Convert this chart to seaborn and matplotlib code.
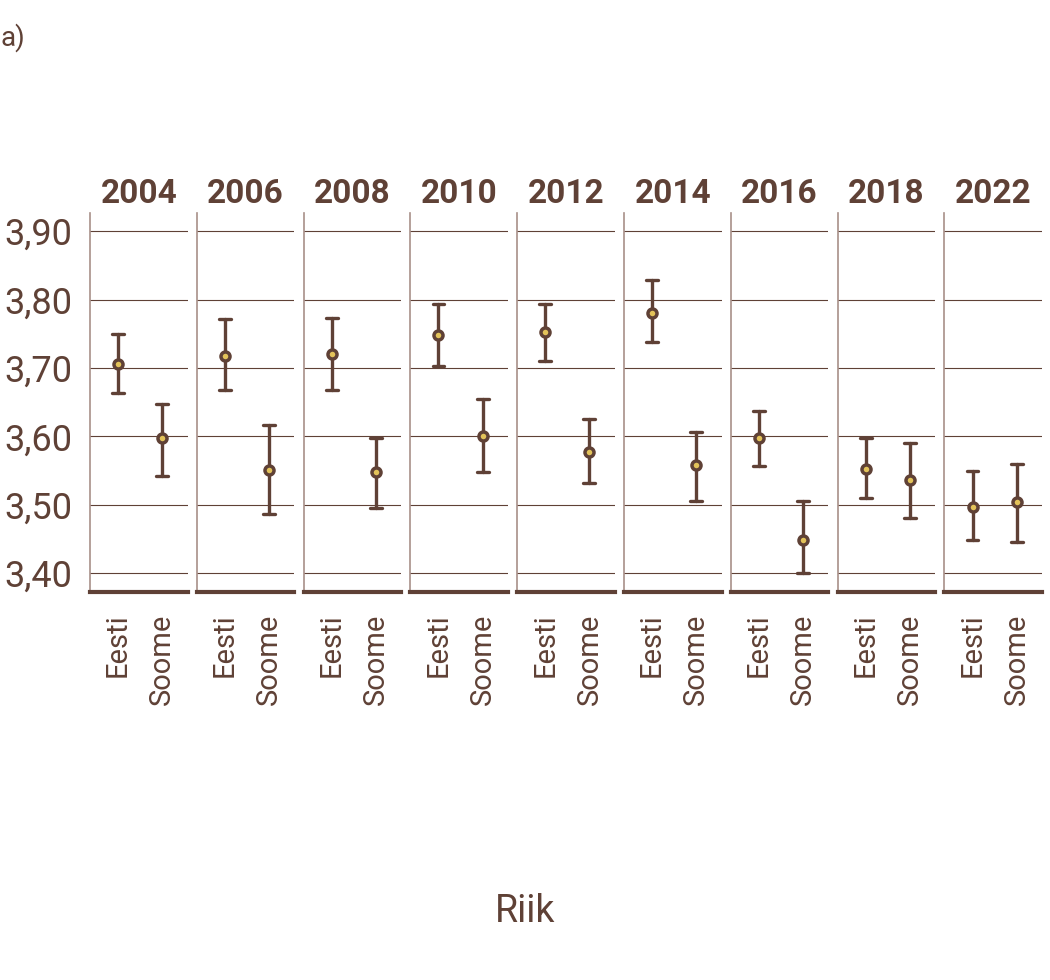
import numpy as np
import pandas as pd
import seaborn as sns
from matplotlib import pyplot as plt
from matplotlib.ticker import FuncFormatter

years = ['2004', '2006', '2008', '2010', '2012', '2014', '2016', '2018', '2022']
countries = ['Eesti', 'Soome']
# mean, lower and upper limit of the interval, per year
eesti_mean = [3.706, 3.718, 3.721, 3.748, 3.753, 3.780, 3.598, 3.553, 3.496]
eesti_lo = [3.663, 3.668, 3.668, 3.703, 3.710, 3.738, 3.556, 3.510, 3.448]
eesti_hi = [3.749, 3.772, 3.773, 3.794, 3.793, 3.828, 3.637, 3.598, 3.550]
soome_mean = [3.597, 3.551, 3.548, 3.600, 3.577, 3.558, 3.449, 3.536, 3.504]
soome_lo = [3.542, 3.487, 3.495, 3.548, 3.532, 3.506, 3.400, 3.480, 3.445]
soome_hi = [3.647, 3.616, 3.597, 3.654, 3.625, 3.606, 3.505, 3.591, 3.559]
yticks = [3.40, 3.50, 3.60, 3.70, 3.80, 3.90]

brown = '#5f4136'
light = '#a89089'
yellow = '#e3c35a'

sns.set_style('white')
plt.rcParams['font.family'] = ['Roboto', 'DejaVu Sans']

# three rows per cell (lo, mean, hi): median = mean, min-max = interval
rows = []
for i, y in enumerate(years):
    for v in (eesti_lo[i], eesti_mean[i], eesti_hi[i]):
        rows.append({'aasta': y, 'riik': 'Eesti', 'v': v})
    for v in (soome_lo[i], soome_mean[i], soome_hi[i]):
        rows.append({'aasta': y, 'riik': 'Soome', 'v': v})
df = pd.DataFrame(rows)

fig, axes = plt.subplots(1, len(years), figsize=(10.5, 9.8), dpi=100, sharey=True)
fig.subplots_adjust(left=90/1050, right=1042/1050, top=1-212.7/980, bottom=1-592.3/980, wspace=0.095)

for ax, y in zip(axes, years):
    d = df[df.aasta == y]
    sns.pointplot(data=d, x='riik', y='v', order=countries, estimator='median',
                  errorbar=('pi', 100), color=brown, linestyle='none', capsize=0.27,
                  err_kws={'linewidth': 2.4}, markersize=6.5, markeredgewidth=2.5, ax=ax)
    for ln in ax.lines:
        if ln.get_marker() == 'o':
            ln.set_markerfacecolor(yellow)
            ln.set_markeredgecolor(brown)
            ln.set_zorder(5)
    ax.set_xlim(-0.636, 1.575)
    ax.set_ylim(3.372, 3.927)
    ax.set_yticks(yticks)
    ax.yaxis.grid(True, color=brown, linewidth=0.8)
    ax.set_axisbelow(True)
    ax.set_xlabel('')
    ax.set_ylabel('')
    ax.set_title(y, fontsize=24, fontweight='bold', color=brown, pad=7)
    for s in ['top', 'right']:
        ax.spines[s].set_visible(False)
    ax.spines['left'].set_color(light)
    ax.spines['left'].set_linewidth(1.2)
    ax.spines['bottom'].set_color(brown)
    ax.spines['bottom'].set_linewidth(3)
    ax.tick_params(axis='both', length=0)
    ax.tick_params(axis='x', pad=15, labelsize=21, labelcolor=brown, rotation=90)
    ax.tick_params(axis='y', pad=13, labelsize=26, labelcolor=brown)
    ax.yaxis.set_major_formatter(FuncFormatter(lambda v, p: f'{v:.2f}'.replace('.', ',')))

fig.text(0.0, 1-38/980, 'a)', fontsize=20, color=brown, va='center', ha='left')
fig.text(525/1050, 1-912/980, 'Riik', fontsize=27, color=brown, va='center', ha='center')

fig.savefig('out.png', dpi=100)
